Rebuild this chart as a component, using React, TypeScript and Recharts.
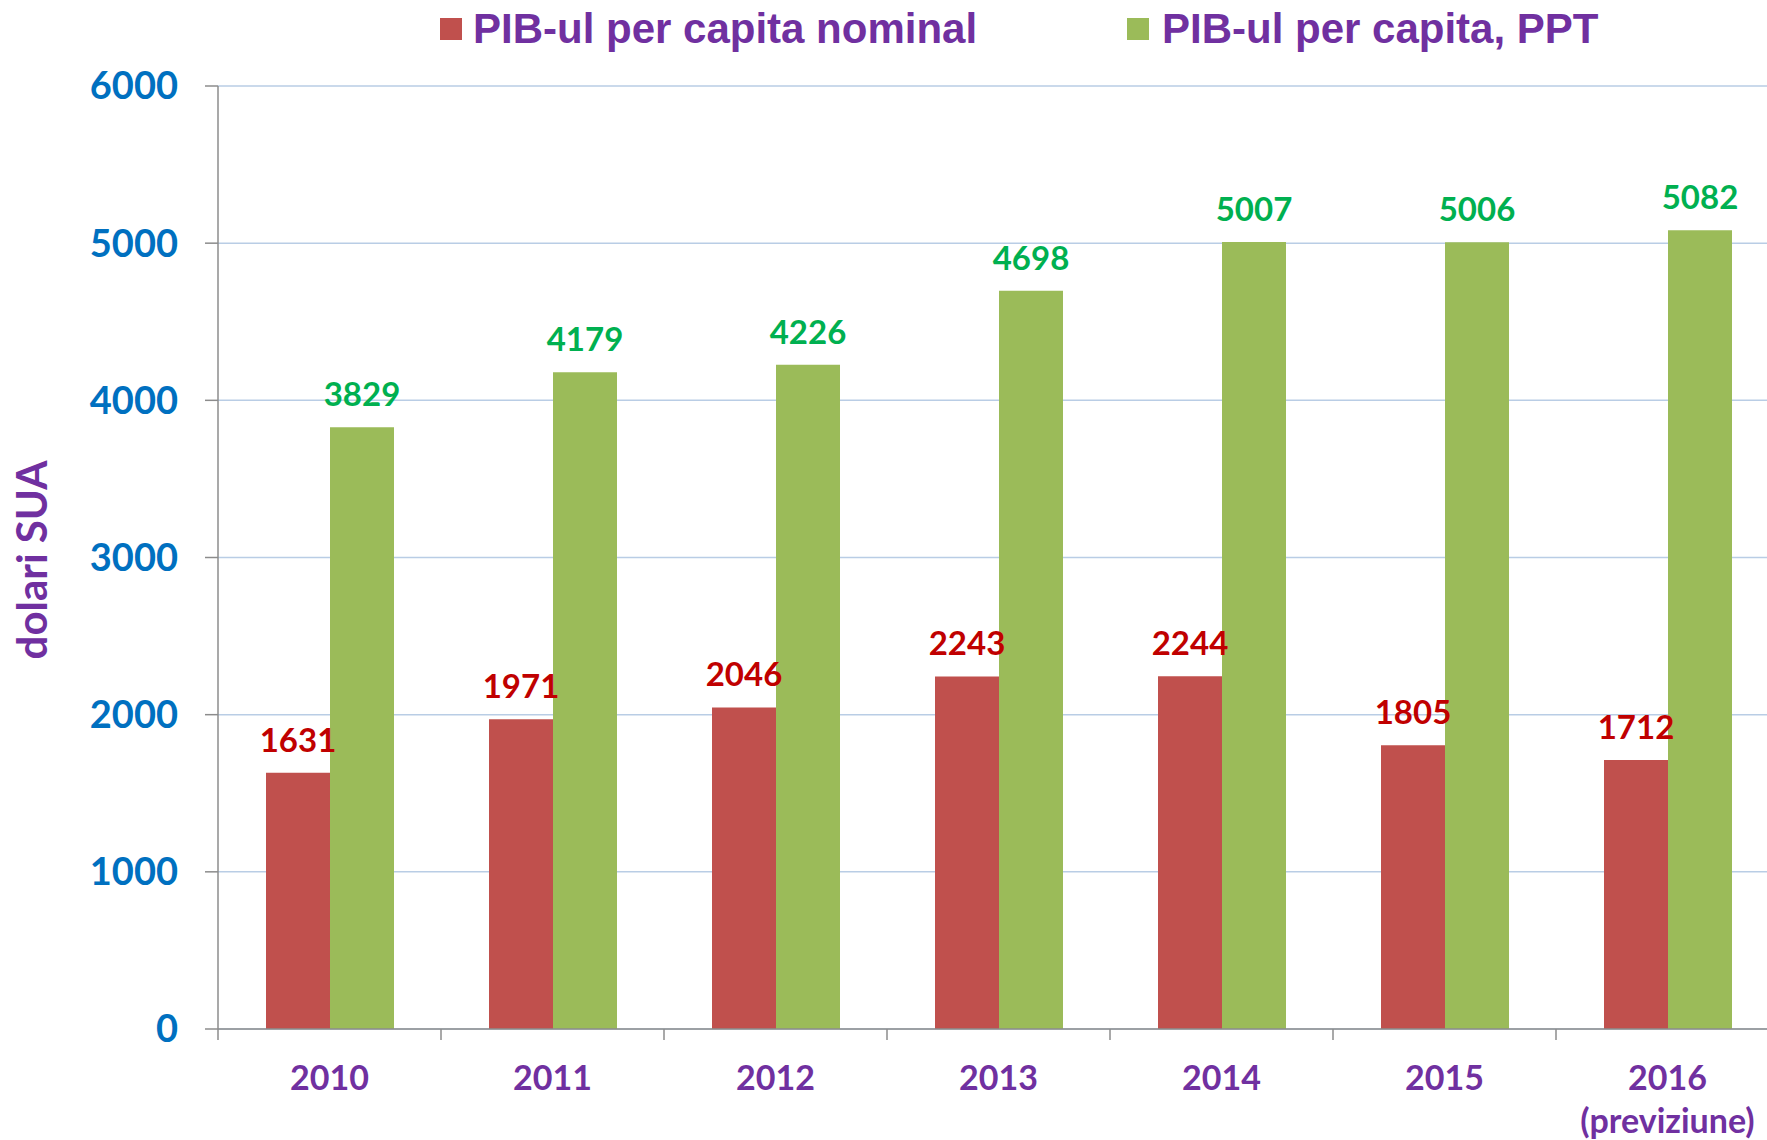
import {Bar, BarChart, CartesianGrid, Label, LabelList, XAxis, YAxis} from 'recharts';

const years = ['2010', '2011', '2012', '2013', '2014', '2015', '2016'];
const yearNotes = ['', '', '', '', '', '', '(previziune)'];
const nominal = [1631, 1971, 2046, 2243, 2244, 1805, 1712];
const ppp = [3829, 4179, 4226, 4698, 5007, 5006, 5082];
const yTicks = [0, 1000, 2000, 3000, 4000, 5000, 6000];
const seriesNames = ['PIB-ul per capita nominal', 'PIB-ul per capita, PPT'];
const axisTitle = 'dolari SUA';

const data = years.map((year, i) => ({year, nominal: nominal[i], ppp: ppp[i]}));

const PURPLE = '#7030A0';
const AXIS = '#8C8C8C';
const CAL = 'Lato, "Open Sans", sans-serif';

function YearTick(props: any) {
  const {x, y, payload, index, width, visibleTicksCount} = props;
  const band = typeof width === 'number' && visibleTicksCount ? width / visibleTicksCount : 223;
  const edge = x - band / 2;
  const note = yearNotes[index] || '';
  return (
    <g>
      <line x1={edge} x2={edge} y1={y} y2={y + 11} stroke={AXIS} strokeWidth={1.5} />
      <text x={x} y={y + 61} textAnchor="middle" fill={PURPLE} fontSize={34} fontWeight={700} fontFamily={CAL}>
        {payload.value}
      </text>
      {note && (
        <text x={x} y={y + 104} textAnchor="middle" fill={PURPLE} fontSize={34} fontWeight={700} fontFamily={CAL}>
          {note}
        </text>
      )}
    </g>
  );
}

function AxisTitle() {
  return (
    <text transform="translate(47,560) rotate(-90)" textAnchor="middle" fill={PURPLE} fontSize={42} fontWeight={700} fontFamily={CAL}>
      {axisTitle}
    </text>
  );
}

export default function App() {
  return (
    <div style={{position: 'fixed', left: 0, top: 0, width: 1767, height: 1140, overflow: 'hidden', background: '#fff'}}>
      <BarChart width={1790} height={1140} data={data} margin={{top: 86, right: 11, bottom: 0, left: 0}} barCategoryGap={48} barGap={0}>
        <CartesianGrid stroke="#B9CDE5" strokeWidth={1.5} vertical={false} />
        <XAxis
          dataKey="year"
          height={111}
          interval={0}
          axisLine={{stroke: AXIS, strokeWidth: 1.5}}
          tickLine={false}
          tickSize={0}
          tickMargin={0}
          tick={(p: any) => <YearTick {...p} />}
        />
        <YAxis
          width={218}
          domain={[0, 6000]}
          ticks={yTicks}
          interval={0}
          axisLine={{stroke: AXIS, strokeWidth: 1.5}}
          tickLine={{stroke: AXIS, strokeWidth: 1.5}}
          tickSize={13}
          tickMargin={27}
          tick={{fill: '#0070C0', fontSize: 38, fontWeight: 700, fontFamily: CAL}}
        >
          <Label content={() => <AxisTitle />} />
        </YAxis>
        <Bar dataKey="nominal" name={seriesNames[0]} fill="#C0504D" isAnimationActive={false}>
          <LabelList dataKey="nominal" position="top" offset={21} fill="#C00000" fontSize={33} fontWeight={700} fontFamily={CAL} />
        </Bar>
        <Bar dataKey="ppp" name={seriesNames[1]} fill="#9BBB59" isAnimationActive={false}>
          <LabelList dataKey="ppp" position="top" offset={21} fill="#00B050" fontSize={33} fontWeight={700} fontFamily={CAL} />
        </Bar>
      </BarChart>
      <svg width={1767} height={70} style={{position: 'absolute', left: 0, top: 0}}>
        <rect x={440} y={18} width={22} height={22} fill="#C0504D" />
        <text x={473} y={43} fill={PURPLE} fontSize={42} fontWeight={700} fontFamily='"Liberation Sans", Arial, sans-serif'>
          {seriesNames[0]}
        </text>
        <rect x={1127} y={18} width={22} height={22} fill="#9BBB59" />
        <text x={1162} y={43} fill={PURPLE} fontSize={42} fontWeight={700} fontFamily='"Liberation Sans", Arial, sans-serif'>
          {seriesNames[1]}
        </text>
      </svg>
    </div>
  );
}
